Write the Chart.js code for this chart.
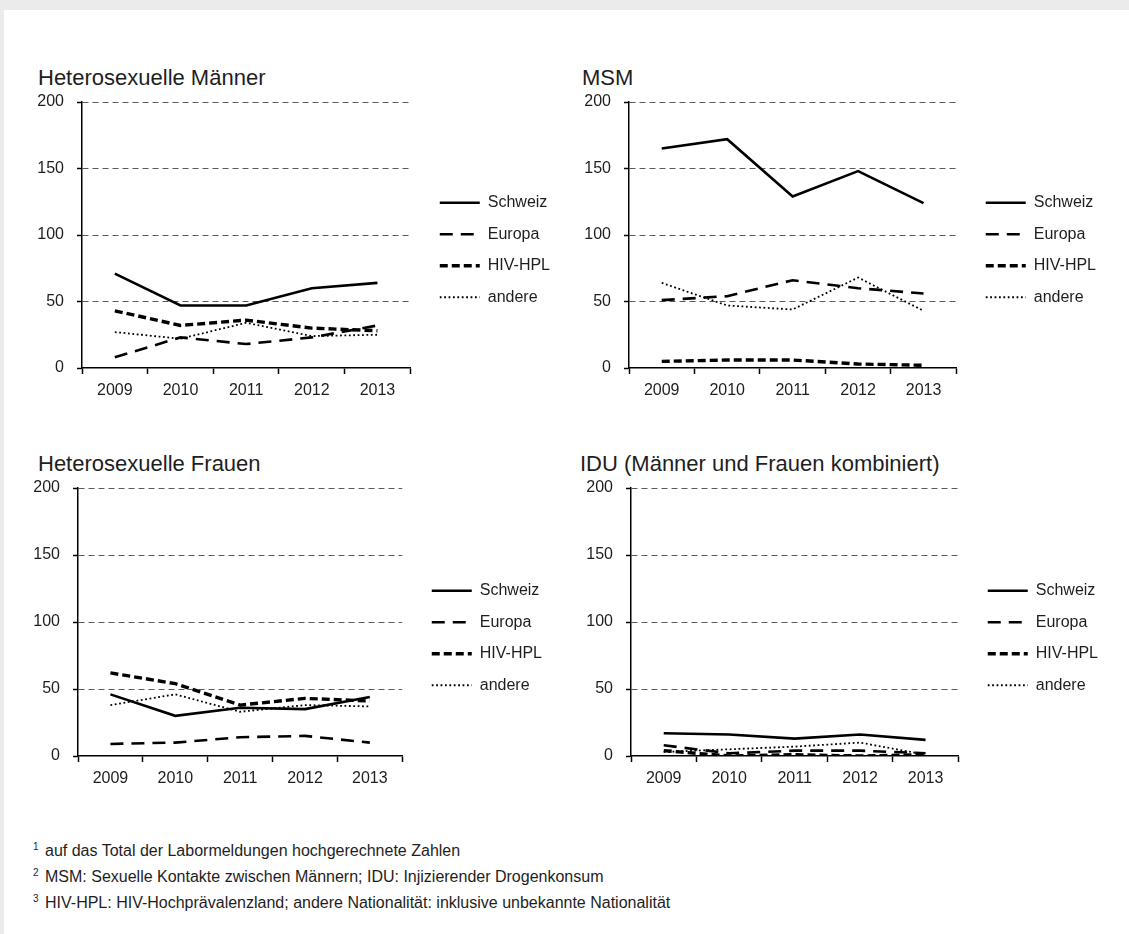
<!DOCTYPE html>
<html>
<head>
<meta charset="utf-8">
<script src="https://cdn.jsdelivr.net/npm/chart.js@4/dist/chart.umd.min.js"></script>
<style>
  html, body { margin:0; padding:0; width:1129px; height:934px; overflow:hidden; background:#ebebeb;
    font-family:"Liberation Sans", Arial, sans-serif; color:#1e1e1e; }
  #sheet { position:absolute; left:4px; top:10px; right:0; bottom:0; background:#fff; }
  .title { position:absolute; font-size:22px; line-height:22px; white-space:nowrap; }
  canvas { position:absolute; }
  #notes { position:absolute; left:33px; top:838px; font-size:16px; line-height:26px; white-space:nowrap; }
  #notes sup { font-size:10px; vertical-align:6px; line-height:0; margin-right:2px; }
</style>
</head>
<body>
<div id="sheet"></div>
<div class="title" style="left:38px;top:67px;">Heterosexuelle Männer</div>
<div class="title" style="left:582px;top:67px;">MSM</div>
<div class="title" style="left:38px;top:453px;">Heterosexuelle Frauen</div>
<div class="title" style="left:580px;top:453px;">IDU (Männer und Frauen kombiniert)</div>

<canvas id="c1"></canvas>
<canvas id="c2"></canvas>
<canvas id="c3"></canvas>
<canvas id="c4"></canvas>

<div id="notes">
  <div><sup>1</sup> auf das Total der Labormeldungen hochgerechnete Zahlen</div>
  <div><sup>2</sup> MSM: Sexuelle Kontakte zwischen Männern; IDU: Injizierender Drogenkonsum</div>
  <div><sup>3</sup> HIV-HPL: HIV-Hochprävalenzland; andere Nationalität: inklusive unbekannte Nationalität</div>
</div>

<script>
// ---- data ----
const years = ['2009', '2010', '2011', '2012', '2013'];
const seriesNames = ['Schweiz', 'Europa', 'HIV-HPL', 'andere'];
const yTickValues = [0, 50, 100, 150, 200];

const hetMenSchweiz = [71, 47, 47, 60, 64];
const hetMenEuropa  = [8, 23, 18, 23, 32];
const hetMenHivHpl  = [43, 32, 36, 30, 28];
const hetMenAndere  = [27, 22, 34, 24, 25];

const msmSchweiz = [165, 172, 129, 148, 124];
const msmEuropa  = [51, 54, 66, 60, 56];
const msmHivHpl  = [5, 6, 6, 3, 2];
const msmAndere  = [64, 47, 44, 68, 43];

const hetWomenSchweiz = [46, 30, 36, 35, 44];
const hetWomenEuropa  = [9, 10, 14, 15, 10];
const hetWomenHivHpl  = [62, 54, 38, 43, 41];
const hetWomenAndere  = [38, 46, 33, 38, 37];

const iduSchweiz = [17, 16, 13, 16, 12];
const iduEuropa  = [8, 2, 4, 4, 2];
const iduHivHpl  = [4, 0, 1, 0, 1];
const iduAndere  = [3, 5, 7, 10, 1];

// ---- styles ----
const FONT = '"Liberation Sans", Arial, sans-serif';
const TEXT = '#1e1e1e';
const LEGEND_FONT_SIZE = 16;
const LEGEND_PAD = 15.5;
const LEGEND_LINE = 40;
const GAP = 14;
const seriesStyle = [
  { width: 2.6, dash: [] },
  { width: 2.6, dash: [13, 8] },
  { width: 3.4, dash: [8, 4] },
  { width: 1.8, dash: [1.8, 2.6] }
];

function datasetsFrom(valueLists) {
  return seriesNames.map((name, i) => ({
    label: name,
    data: valueLists[i],
    borderColor: '#000',
    backgroundColor: '#000',
    borderWidth: seriesStyle[i].width,
    borderDash: seriesStyle[i].dash,
    borderCapStyle: 'butt',
    borderJoinStyle: 'miter',
    pointRadius: 0,
    pointHoverRadius: 0,
    tension: 0,
    fill: false
  }));
}

function legendWidth() {
  const ctx = document.createElement('canvas').getContext('2d');
  ctx.font = LEGEND_FONT_SIZE + 'px ' + FONT;
  const maxText = Math.max(...seriesNames.map(n => ctx.measureText(n).width));
  return LEGEND_PAD + LEGEND_LINE + LEGEND_FONT_SIZE / 2 + maxText + 10;
}

function makePanel(id, valueLists, g) {
  const cv = document.getElementById(id);
  const W = Math.round(g.right - g.left + GAP + legendWidth());
  cv.width = W; cv.height = g.h;
  cv.style.left = g.left + 'px'; cv.style.top = g.top + 'px';
  cv.style.width = W + 'px'; cv.style.height = g.h + 'px';
  new Chart(cv, {
    type: 'line',
    data: { labels: years, datasets: datasetsFrom(valueLists) },
    options: {
      responsive: false,
      animation: false,
      devicePixelRatio: 1,
      layout: { padding: 0 },
      plugins: {
        legend: {
          position: 'right', align: 'center', fullSize: true,
          labels: {
            usePointStyle: true, pointStyle: 'line', pointStyleWidth: LEGEND_LINE,
            padding: LEGEND_PAD, color: TEXT, font: { family: FONT, size: LEGEND_FONT_SIZE },
            generateLabels: chart => chart.data.datasets.map((ds, i) => ({
              text: ds.label, fillStyle: '#000', strokeStyle: '#000',
              lineWidth: ds.borderWidth, lineDash: ds.borderDash, lineCap: 'butt', lineJoin: 'miter',
              pointStyle: 'line', rotation: 0, hidden: false, datasetIndex: i, fontColor: TEXT
            }))
          }
        },
        tooltip: { enabled: false },
        title: { display: false }
      },
      scales: {
        x: {
          type: 'category', offset: true,
          grid: { display: true, drawOnChartArea: false, offset: true, drawTicks: true,
                  tickLength: 6, tickColor: '#000', tickWidth: 1.5, color: '#000' },
          border: { display: true, color: '#000', width: 1.5 },
          ticks: { color: TEXT, font: { family: FONT, size: 16 }, padding: 7, maxRotation: 0, autoSkip: false },
          afterFit: s => { s.height = g.xH; }
        },
        y: {
          min: yTickValues[0], max: yTickValues[yTickValues.length - 1],
          afterBuildTicks: s => { s.ticks = yTickValues.map(v => ({ value: v })); },
          ticks: { color: TEXT, font: { family: FONT, size: 16 }, padding: 13 },
          grid: {
            color: c => (c.tick && c.tick.value === 0) ? 'rgba(0,0,0,0)' : '#5a5a5a',
            lineWidth: 1, drawTicks: true, tickLength: 5, tickColor: '#000', tickWidth: 1.5, tickBorderDash: []
          },
          border: { display: true, color: '#000', width: 1.5, dash: [6, 4] },
          afterFit: s => { s.width = g.yW; s.paddingTop = g.T; }
        },
        gap: {
          position: 'right', display: false,
          afterFit: s => { s.width = GAP; }
        }
      }
    }
  });
}

makePanel('c1', [hetMenSchweiz, hetMenEuropa, hetMenHivHpl, hetMenAndere],
  { left: 0, top: 80, h: 340, T: 22, xH: 52, yW: 82, right: 410 });
makePanel('c2', [msmSchweiz, msmEuropa, msmHivHpl, msmAndere],
  { left: 540, top: 80, h: 340, T: 22, xH: 52, yW: 89, right: 956 });
makePanel('c3', [hetWomenSchweiz, hetWomenEuropa, hetWomenHivHpl, hetWomenAndere],
  { left: 0, top: 466, h: 344, T: 22, xH: 54, yW: 78, right: 402 });
makePanel('c4', [iduSchweiz, iduEuropa, iduHivHpl, iduAndere],
  { left: 540, top: 466, h: 344, T: 22, xH: 54, yW: 91, right: 958 });
</script>
</body>
</html>
